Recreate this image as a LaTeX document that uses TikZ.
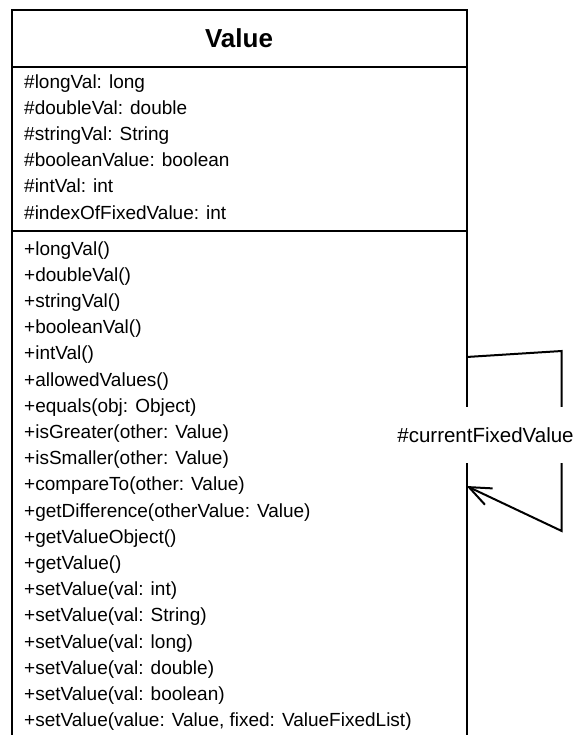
\documentclass[tikz,border=0pt]{standalone}
\usepackage{fontspec}
\setmainfont{Liberation Sans}
\usetikzlibrary{arrows.meta}
\begin{document}
\begin{tikzpicture}[x=1pt,y=-1pt,
  compart/.style={draw=black,line width=2pt,rectangle,anchor=north west,outer sep=0pt,inner sep=0pt,minimum width=454.5pt},
  member/.style={anchor=base west,inner sep=0pt,font=\fontsize{19}{23}\selectfont},
  conn/.style={draw=black,line width=2pt},
  lbl/.style={fill=white,inner xsep=2pt,inner ysep=0pt,minimum height=56pt,font=\fontsize{20.5}{24}\selectfont}]
\useasboundingbox (0,0) rectangle (577,735);
% class box compartments
\node[compart,minimum height=57pt] (title) at (12,10) {};
\node[compart,minimum height=164pt] (attrs) at (12,67) {};
\node[compart,minimum height=508pt] (methods) at (12,231) {};
\node[font=\fontsize{26}{30}\selectfont\bfseries,anchor=base] (tname) at (239,47.5) {Value};
% attributes
\foreach \t [count=\i from 0] in {\#longVal: long,\#doubleVal: double,\#stringVal: String,\#booleanValue: boolean,\#intVal: int,\#indexOfFixedValue: int}
  \node[member] (a\i) at (24,{89+26*\i}) {\t};
% methods
\foreach \t [count=\i from 0] in {+longVal(),+doubleVal(),+stringVal(),+booleanVal(),+intVal(),+allowedValues(),+equals(obj: Object),+isGreater(other: Value),+isSmaller(other: Value),+compareTo(other: Value),+getDifference(otherValue: Value),+getValueObject(),+getValue(),+setValue(val: int),+setValue(val: String),+setValue(val: long),+setValue(val: double),+setValue(val: boolean),{+setValue(value: Value, fixed: ValueFixedList)}}
  \node[member] (m\i) at (24,{255+26.2*\i}) {\t};
% self association
\coordinate (c1) at (561.7,351);
\coordinate (c2) at (561.7,531);
\draw[conn,-{Straight Barb[length=22pt,width=18pt,line width=2pt]}] (methods.east |- 0,357) -- (c1) -- (c2) -- (methods.east |- 0,486);
\node[lbl] (assoc) at (485.5,435) {\#currentFixedValue};
\end{tikzpicture}
\end{document}
